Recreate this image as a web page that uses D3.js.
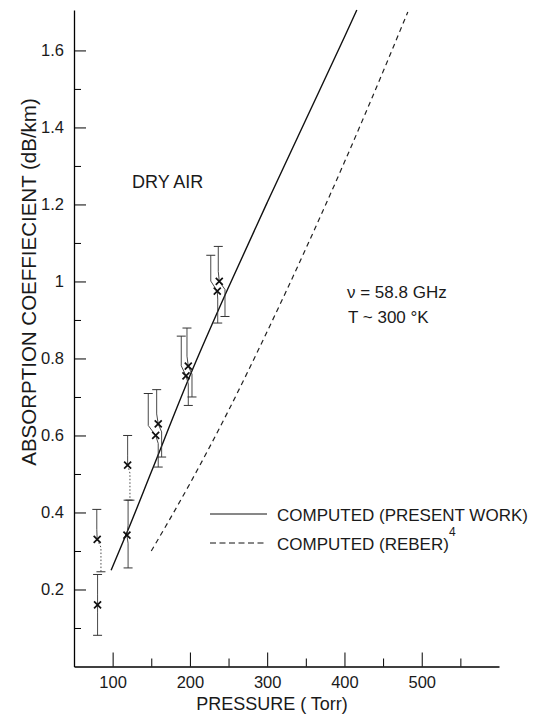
<!DOCTYPE html>
<html>
<head>
<meta charset="utf-8">
<script src="https://cdn.jsdelivr.net/npm/d3@7"></script>
<style>
  body { margin: 0; background: #fff; }
  text { font-family: "Liberation Sans", Arial, sans-serif; fill: #1a1a1a; }
</style>
</head>
<body>
<div id="vis-container"></div>
<script>
// Computed curves (pressure in Torr, absorption in dB/km)
const presentPressure = [98, 120, 150, 200, 250, 300, 350, 400, 416];
const presentAbs      = [0.25, 0.355, 0.505, 0.755, 0.985, 1.205, 1.42, 1.635, 1.705];
const reberPressure   = [150, 200, 250, 300, 350, 400, 450, 482];
const reberAbs        = [0.30, 0.475, 0.665, 0.87, 1.085, 1.31, 1.545, 1.70];

// Measured points, pairs at each pressure
const pointPressure = [80, 80.5, 119.4, 118.5, 155.7, 159, 194.9, 197.9, 235.4, 238];
const pointAbs      = [0.33, 0.16, 0.523, 0.341, 0.60, 0.63, 0.755, 0.78, 0.975, 1.0];
const errLow        = [0.246, 0.081, 0.432, 0.256, 0.518, 0.544, 0.678, 0.70, 0.892, 0.909];
const errHigh       = [0.408, 0.239, 0.60, 0.432, 0.709, 0.719, 0.858, 0.879, 1.068, 1.091];
// the bars were drawn a little off the mark: pressure of upper and lower half
const barTopPressure = [79.5, 80.5, 119.4, 120, 146.1, 157, 188.8, 196.2, 227, 236.7];
const barLowPressure = [84.9, 80.5, 122.4, 120, 159, 163.4, 197.9, 202.7, 236, 245.4];

// Tick values
const xMajor = [100, 200, 300, 400, 500];
const xMinor = [150, 250, 350, 450, 550];
const yMajor = [0.2, 0.4, 0.6, 0.8, 1.0, 1.2, 1.4, 1.6];
const yMinor = [0.1, 0.3, 0.5, 0.7, 0.9, 1.1, 1.3, 1.5];

const width = 540;
const height = 714;

const svg = d3.select("#vis-container")
  .append("svg")
  .attr("width", width)
  .attr("height", height);

const xScale = d3.scaleLinear().domain([50, 600]).range([74, 499]);
const yScale = d3.scaleLinear().domain([0, 1.705]).range([666.5, 10]);

// x axis: major ticks with labels, minor without, all pointing inward
svg.append("g")
  .attr("transform", `translate(0,${yScale(0)})`)
  .call(d3.axisBottom(xScale).tickValues(xMajor).tickSize(-14).tickSizeOuter(0).tickPadding(10)
    .tickFormat(d3.format("d")))
  .call((g) => g.select(".domain").attr("stroke-width", 1.3))
  .call((g) => g.selectAll("text").attr("font-size", "16.5px").attr("fill", "#1a1a1a"));

svg.append("g")
  .attr("transform", `translate(0,${yScale(0)})`)
  .call(d3.axisBottom(xScale).tickValues(xMinor).tickSize(-8).tickSizeOuter(0).tickFormat(""))
  .call((g) => g.select(".domain").remove());

// y axis
svg.append("g")
  .attr("transform", `translate(${xScale(50)},0)`)
  .call(d3.axisLeft(yScale).tickValues(yMajor).tickSize(-12).tickSizeOuter(0).tickPadding(10)
    .tickFormat((d) => d === 1 ? "1" : d3.format(".1f")(d)))
  .call((g) => g.select(".domain").attr("stroke-width", 1.3))
  .call((g) => g.selectAll("text").attr("font-size", "16.5px").attr("fill", "#1a1a1a"));

svg.append("g")
  .attr("transform", `translate(${xScale(50)},0)`)
  .call(d3.axisLeft(yScale).tickValues(yMinor).tickSize(-7).tickSizeOuter(0).tickFormat(""))
  .call((g) => g.select(".domain").remove());

// axis titles
svg.append("text")
  .attr("x", 272)
  .attr("y", 710)
  .attr("text-anchor", "middle")
  .attr("font-size", "18px")
  .text("PRESSURE ( Torr)");

svg.append("text")
  .attr("transform", "translate(36,282) rotate(-90)")
  .attr("text-anchor", "middle")
  .attr("font-size", "20.5px")
  .text("ABSORPTION COEFFIECIENT (dB/km)");

// computed curves
const line = d3.line()
  .x((d) => xScale(d[0]))
  .y((d) => yScale(d[1]))
  .curve(d3.curveMonotoneX);

svg.append("path")
  .datum(d3.zip(presentPressure, presentAbs))
  .attr("d", line)
  .attr("fill", "none")
  .attr("stroke", "#111")
  .attr("stroke-width", 1.4);

svg.append("path")
  .datum(d3.zip(reberPressure, reberAbs))
  .attr("d", line)
  .attr("fill", "none")
  .attr("stroke", "#222")
  .attr("stroke-width", 1.2)
  .attr("stroke-dasharray", "5,4");

// error bars, bent the way they were drawn
const dottedLower = [0, 2]; // these lower halves are drawn faint/dotted
const kneeUp = 10;
const kneeDown = 8;
const capHalf = 4.5;

pointAbs.forEach((v, i) => {
  const xm = xScale(pointPressure[i]);
  const ym = yScale(v);
  const xt = xScale(barTopPressure[i]);
  const xb = xScale(barLowPressure[i]);
  const upper = [[xt, yScale(errHigh[i])], [xt, ym - kneeUp], [xm, ym]];
  const lower = [[xm, ym], [xb, ym + kneeDown], [xb, yScale(errLow[i])]];

  svg.append("path")
    .attr("d", d3.line()(upper))
    .attr("fill", "none")
    .attr("stroke", "#333")
    .attr("stroke-width", 0.9);

  svg.append("path")
    .attr("d", d3.line()(lower))
    .attr("fill", "none")
    .attr("stroke", "#333")
    .attr("stroke-width", 0.9)
    .attr("stroke-dasharray", dottedLower.includes(i) ? "1.5,2" : null);

  // caps
  [[xt, yScale(errHigh[i])], [xb, yScale(errLow[i])]].forEach(([cx, cy]) => {
    svg.append("line")
      .attr("x1", cx - capHalf).attr("x2", cx + capHalf)
      .attr("y1", cy).attr("y2", cy)
      .attr("stroke", "#333")
      .attr("stroke-width", 1);
  });
});

// x marks
const markHalf = 3.5;
svg.selectAll(".mark")
  .data(d3.zip(pointPressure, pointAbs))
  .enter()
  .append("path")
  .attr("class", "mark")
  .attr("d", (d) => {
    const cx = xScale(d[0]), cy = yScale(d[1]);
    return `M${cx - markHalf},${cy - markHalf}L${cx + markHalf},${cy + markHalf}` +
      `M${cx - markHalf},${cy + markHalf}L${cx + markHalf},${cy - markHalf}`;
  })
  .attr("stroke", "#111")
  .attr("stroke-width", 1.7);

// annotations
svg.append("text")
  .attr("x", 132)
  .attr("y", 188)
  .attr("font-size", "18px")
  .text("DRY AIR");

svg.append("text")
  .attr("x", 347)
  .attr("y", 298)
  .attr("font-size", "17px")
  .text("ν = 58.8 GHz");

svg.append("text")
  .attr("x", 348)
  .attr("y", 323)
  .attr("font-size", "17px")
  .text("T ~ 300 °K");

// legend
svg.append("line")
  .attr("x1", 210).attr("x2", 267)
  .attr("y1", 514).attr("y2", 514)
  .attr("stroke", "#111")
  .attr("stroke-width", 1);

svg.append("text")
  .attr("x", 277)
  .attr("y", 521)
  .attr("font-size", "17px")
  .text("COMPUTED (PRESENT WORK)");

svg.append("line")
  .attr("x1", 210).attr("x2", 267)
  .attr("y1", 543).attr("y2", 543)
  .attr("stroke", "#111")
  .attr("stroke-width", 1)
  .attr("stroke-dasharray", "6,3.5");

const reberLabel = svg.append("text")
  .attr("x", 277)
  .attr("y", 550)
  .attr("font-size", "17px");
reberLabel.append("tspan").text("COMPUTED (REBER)");
reberLabel.append("tspan")
  .attr("font-size", "12px")
  .attr("dy", -14)
  .text("4");
</script>
</body>
</html>
